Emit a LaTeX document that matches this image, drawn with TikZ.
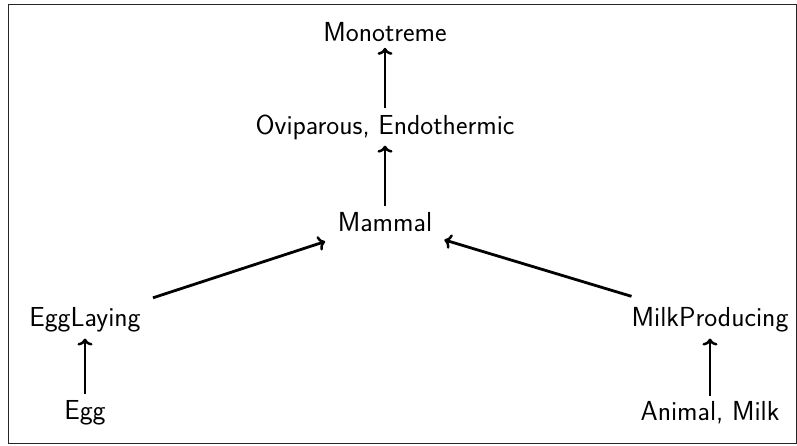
\documentclass[tikz,border=0pt]{standalone}
\usetikzlibrary{arrows.meta}
\begin{document}
\begin{tikzpicture}[x=1pt,y=-1pt,
  lbl/.style={font=\sffamily\fontsize{27.5}{33}\selectfont, inner sep=6pt},
  conn/.style={-{To[length=7pt,width=15pt,line width=2.5pt]}, line width=2.8pt}]
\useasboundingbox (0,0) rectangle (797,445);
\draw[black!85, line width=1pt] (8,4) rectangle (796.5,443.5);
\node[lbl] (mono) at (385,32) {Monotreme};
\node[lbl] (ovi) at (385,127) {Oviparous, Endothermic};
\node[lbl] (mam) at (385,222) {Mammal};
\node[lbl] (egl) at (85,320) {EggLaying};
\node[lbl] (egg) at (85,413) {Egg};
\node[lbl] (milk) at (710,320) {MilkProducing};
\node[lbl] (anim) at (710,413) {Animal, Milk};
\draw[conn] (ovi) -- (mono);
\draw[conn] (mam) -- (ovi);
\draw[conn, shorten <=71.5pt, shorten >=63pt] (egl.center) -- (mam.center);
\draw[conn, shorten <=82pt, shorten >=62pt] (milk.center) -- (mam.center);
\draw[conn] (egg) -- (egl);
\draw[conn] (anim) -- (milk);
\end{tikzpicture}
\end{document}
